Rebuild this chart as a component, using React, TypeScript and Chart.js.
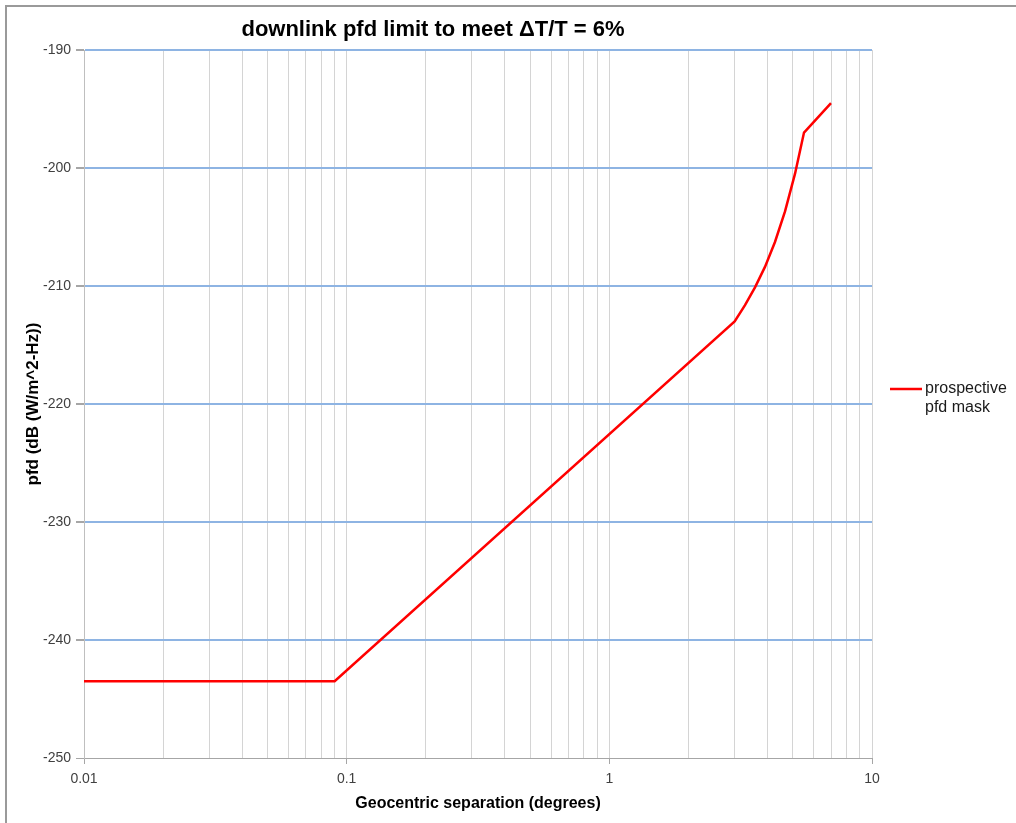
import React, { useEffect, useRef } from "react";
import { Chart, registerables } from "chart.js";

Chart.register(...registerables);

const sepDeg = [0.01, 0.09, 3, 3.285, 3.586, 3.913, 4.272, 4.665, 5.093, 5.51, 6.98];
const pfdValues = [-243.5, -243.5, -213, -211.62, -210.12, -208.38, -206.27, -203.68, -200.48, -197, -194.5];
const xMajorTicks = [0.01, 0.1, 1, 10];
const xMajorLabels = ["0.01", "0.1", "1", "10"];
const xMinorMultipliers = [1, 2, 3, 4, 5, 6, 7, 8, 9];
const yTicks = [-250, -240, -230, -220, -210, -200, -190];

const titleText = "downlink pfd limit to meet \u0394T/T = 6%";
const seriesName = ["prospective", "pfd mask"];
const xTitle = "Geocentric separation (degrees)";
const yTitle = "pfd (dB (W/m^2-Hz))";

const FONT = "'Liberation Sans', Arial, sans-serif";

function majorIndex(v: number): number {
  for (let i = 0; i < xMajorTicks.length; i++) {
    if (Math.abs(v - xMajorTicks[i]) / xMajorTicks[i] < 1e-6) return i;
  }
  return -1;
}

const overlayPlugin = {
  id: "overlay",
  afterDraw(chart: any) {
    const ctx = chart.ctx;
    const area = chart.chartArea;
    ctx.save();
    // title
    ctx.fillStyle = "#000000";
    ctx.font = `bold 22px ${FONT}`;
    ctx.textAlign = "center";
    ctx.textBaseline = "middle";
    ctx.fillText(titleText, 433, 30);
    // legend
    const lx = area.right + 18;
    const ly = (area.top + area.bottom) / 2 - 15;
    ctx.strokeStyle = "#FF0000";
    ctx.lineWidth = 2.5;
    ctx.beginPath();
    ctx.moveTo(lx, ly);
    ctx.lineTo(lx + 32, ly);
    ctx.stroke();
    ctx.fillStyle = "#1a1a1a";
    ctx.font = `16px ${FONT}`;
    ctx.textAlign = "left";
    ctx.fillText(seriesName[0], lx + 35, ly);
    ctx.fillText(seriesName[1], lx + 35, ly + 19);
    ctx.restore();
  },
};

export default function App() {
  const canvasRef = useRef<HTMLCanvasElement | null>(null);

  useEffect(() => {
    if (!canvasRef.current) return;
    const gridValues: number[] = [];
    for (let d = 0; d < xMajorTicks.length - 1; d++) {
      for (const m of xMinorMultipliers) gridValues.push(xMajorTicks[d] * m);
    }
    gridValues.push(xMajorTicks[xMajorTicks.length - 1]);

    const chart = new Chart(canvasRef.current, {
      type: "line",
      data: {
        datasets: [
          {
            label: seriesName.join(" "),
            data: sepDeg.map((x, i) => ({ x, y: pfdValues[i] })),
            borderColor: "#FF0000",
            borderWidth: 2.5,
            pointRadius: 0,
            fill: false,
            tension: 0,
          },
        ],
      },
      options: {
        animation: false,
        responsive: false,
        maintainAspectRatio: false,
        layout: { padding: { top: 50, right: 144, bottom: 0, left: 0 } },
        plugins: {
          legend: { display: false },
          title: { display: false },
          tooltip: { enabled: false },
        },
        scales: {
          x: {
            type: "logarithmic",
            min: 0.01,
            max: 10,
            afterBuildTicks: (s: any) => {
              s.ticks = gridValues.map((v) => ({ value: v }));
            },
            ticks: {
              autoSkip: false,
              maxRotation: 0,
              minRotation: 0,
              padding: 7,
              color: "#404040",
              font: { size: 14, family: FONT },
              callback: (v: any) => {
                const i = majorIndex(Number(v));
                return i >= 0 ? xMajorLabels[i] : "";
              },
            },
            grid: {
              color: "#D4D4D4",
              lineWidth: 1,
              drawTicks: true,
              tickLength: 6,
              tickColor: (c: any) =>
                c.tick && majorIndex(c.tick.value) >= 0 ? "#A6A6A6" : "rgba(0,0,0,0)",
            },
            border: { color: "#A6A6A6", width: 1 },
            title: {
              display: true,
              text: xTitle,
              color: "#000000",
              font: { size: 16, weight: "bold", family: FONT },
              padding: { top: 0, bottom: 10 },
            },
            afterFit: (s: any) => {
              s.height = 65;
            },
          },
          y: {
            type: "linear",
            min: -250,
            max: -190,
            afterBuildTicks: (s: any) => {
              s.ticks = yTicks.map((v) => ({ value: v }));
            },
            ticks: {
              padding: 5,
              color: "#404040",
              font: { size: 14, family: FONT },
            },
            grid: {
              color: (c: any) => (c.tick && c.tick.value === -250 ? "#A6A6A6" : "#8EB4E3"),
              lineWidth: (c: any) => (c.tick && c.tick.value === -250 ? 1 : 2),
              drawTicks: true,
              tickLength: 8,
              tickColor: "#A6A6A6",
            },
            border: { color: "#BFBFBF", width: 1 },
            title: {
              display: true,
              text: yTitle,
              color: "#000000",
              font: { size: 17, weight: "bold", family: FONT },
              padding: { top: 23, bottom: 0 },
            },
            afterFit: (s: any) => {
              s.width = 84;
            },
          },
        },
      },
      plugins: [overlayPlugin],
    } as any);

    return () => {
      chart.destroy();
    };
  }, []);

  return (
    <div
      style={{
        position: "fixed",
        left: 0,
        top: 0,
        width: 1016,
        height: 823,
        background: "#FFFFFF",
        overflow: "hidden",
      }}
    >
      <canvas
        ref={canvasRef}
        width={1016}
        height={823}
        style={{ position: "absolute", left: 0, top: 0, width: 1016, height: 823 }}
      />
      <div
        style={{
          position: "absolute",
          left: 5,
          top: 5,
          width: 1011,
          height: 818,
          borderTop: "2px solid #9A9A9A",
          borderLeft: "2px solid #9A9A9A",
          boxSizing: "border-box",
          pointerEvents: "none",
        }}
      />
    </div>
  );
}
